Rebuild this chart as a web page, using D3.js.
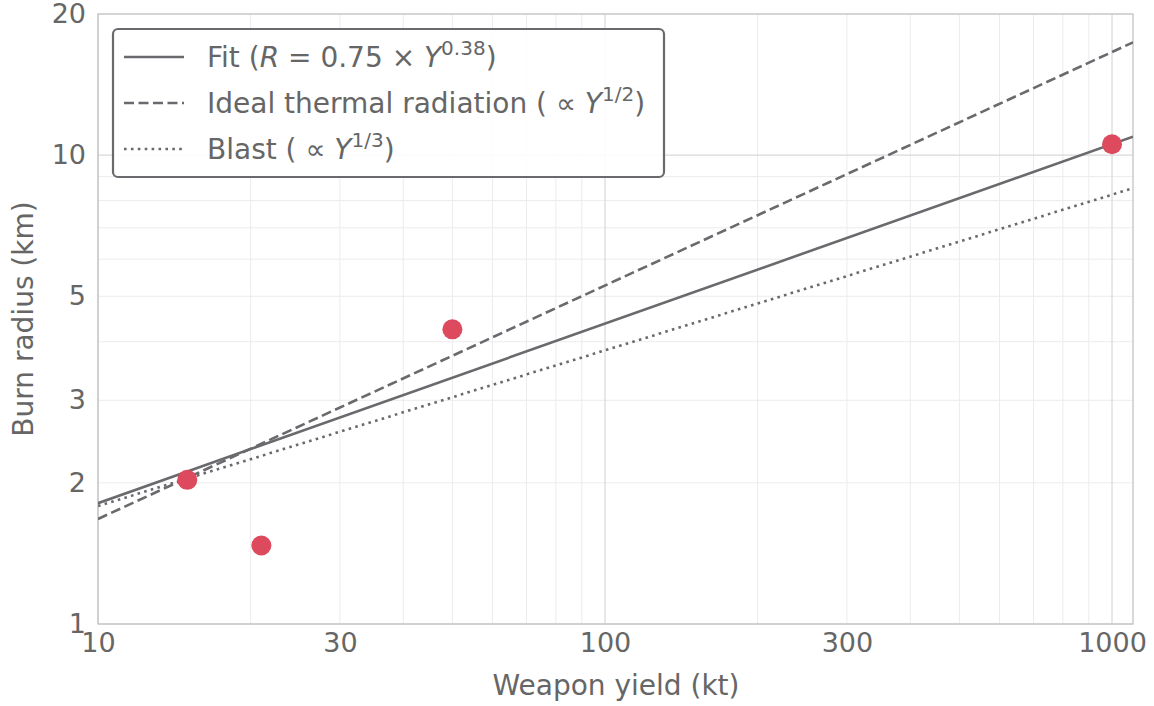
<!DOCTYPE html>
<html><head><meta charset="utf-8">
<script src="https://cdn.jsdelivr.net/npm/d3@7"></script>
<style>body{margin:0;background:#fff}svg{font-family:"DejaVu Sans",sans-serif}</style>
</head><body><svg id="c" width="1154" height="706"></svg>
<script>
// Data (weapon yield kt, burn radius km)
const yields = [15, 21, 50, 1000];
const radii = [2.03, 1.47, 4.25, 10.55];
// Reference lines: endpoints [yield, radius]
const fitLine = [[10, 1.81], [1100, 10.95]];
const thermalLine = [[10, 1.675], [1100, 17.4]];
const blastLine = [[10, 1.785], [1100, 8.5]];
const xTicks = [10, 30, 100, 300, 1000];
const yTicks = [1, 2, 3, 5, 10, 20];
const xMinor = [20,30,40,50,60,70,80,90,200,300,400,500,600,700,800,900];
const xMajor = [10,100,1000];
const yMinor = [2,3,4,5,6,7,8,9,20];
const yMajor = [1,10];

const svg = d3.select("#c");
const L = 98, R = 1133, T = 14, B = 624;
const x = d3.scaleLog().domain([10, 1100]).range([L, R]);
const y = d3.scaleLog().domain([1, 20]).range([B, T]);
const txt = "#666";
const FT = 27, FL = 28;

const g = svg.append("g");
// grid
g.selectAll(".xm").data(xMinor).join("line").attr("x1", d=>x(d)).attr("x2", d=>x(d)).attr("y1", T).attr("y2", B).attr("stroke", "#ececec").attr("stroke-width", 1);
g.selectAll(".ym").data(yMinor).join("line").attr("y1", d=>y(d)).attr("y2", d=>y(d)).attr("x1", L).attr("x2", R).attr("stroke", "#ececec").attr("stroke-width", 1);
g.selectAll(".xM").data(xMajor).join("line").attr("x1", d=>x(d)).attr("x2", d=>x(d)).attr("y1", T).attr("y2", B).attr("stroke", "#d8d8d8").attr("stroke-width", 1.2);
g.selectAll(".yM").data(yMajor).join("line").attr("y1", d=>y(d)).attr("y2", d=>y(d)).attr("x1", L).attr("x2", R).attr("stroke", "#d8d8d8").attr("stroke-width", 1.2);

// frame
svg.append("rect").attr("x", L).attr("y", T).attr("width", R-L).attr("height", B-T).attr("fill", "none").attr("stroke", "#c4c4c4").attr("stroke-width", 1.3);

// axes
const xAxis = d3.axisBottom(x).tickValues(xTicks).tickFormat(d3.format("d")).tickSize(0).tickPadding(9);
const ax = svg.append("g").attr("transform", `translate(0,${B})`).call(xAxis);
ax.select(".domain").remove();
ax.selectAll("text").attr("fill", txt).attr("font-size", FT).attr("font-family", "DejaVu Sans");
const yAxis = d3.axisLeft(y).tickValues(yTicks).tickFormat(d3.format("d")).tickSize(0).tickPadding(12);
const ay = svg.append("g").attr("transform", `translate(${L},0)`).call(yAxis);
ay.select(".domain").remove();
ay.selectAll("text").attr("fill", txt).attr("font-size", FT).attr("font-family", "DejaVu Sans");

svg.append("text").attr("x", 616).attr("y", 695).attr("text-anchor", "middle").attr("fill", txt).attr("font-size", FL).text("Weapon yield (kt)");
svg.append("text").attr("transform", `translate(33,${(T+B)/2}) rotate(-90)`).attr("text-anchor", "middle").attr("fill", txt).attr("font-size", FL).text("Burn radius (km)");

// lines
svg.append("clipPath").attr("id", "pc").append("rect").attr("x", L).attr("y", T).attr("width", R-L).attr("height", B-T);
const line = d3.line().x(d=>x(d[0])).y(d=>y(d[1]));
const lc = "#6a6a6e";
const pl = svg.append("g").attr("clip-path", "url(#pc)");
pl.append("path").attr("d", line(fitLine)).attr("stroke", lc).attr("stroke-width", 2.6).attr("fill", "none");
pl.append("path").attr("d", line(thermalLine)).attr("stroke", lc).attr("stroke-width", 2.6).attr("fill", "none").attr("stroke-dasharray", "10,4.5");
pl.append("path").attr("d", line(blastLine)).attr("stroke", lc).attr("stroke-width", 2.6).attr("fill", "none").attr("stroke-dasharray", "2.6,4.3");

// points
svg.append("g").selectAll("circle").data(yields.map((v,i)=>[v, radii[i]])).join("circle")
  .attr("cx", d=>x(d[0])).attr("cy", d=>y(d[1])).attr("r", 10).attr("fill", "#dd4a5e");

// legend
const lg = svg.append("g");
lg.append("rect").attr("x", 113).attr("y", 29).attr("width", 551).attr("height", 148).attr("rx", 5).attr("fill", "#fff").attr("fill-opacity", 0.9).attr("stroke", "#6a6a6e").attr("stroke-width", 2.2);
const items = [
  {dash: null, parts: [["Fit (",0],["R",1],[" = 0.75 × ",0],["Y",1],["0.38",2],[")",0]]},
  {dash: "10,4.5", parts: [["Ideal thermal radiation ( ∝ ",0],["Y",1],["1/2",2],[")",0]]},
  {dash: "2.6,4.3", parts: [["Blast ( ∝ ",0],["Y",1],["1/3",2],[")",0]]}
];
items.forEach((it, i) => {
  const yy = 57 + i*46;
  lg.append("line").attr("x1", 124).attr("x2", 184).attr("y1", yy).attr("y2", yy).attr("stroke", lc).attr("stroke-width", 2.6).attr("stroke-dasharray", it.dash);
  const t = lg.append("text").attr("x", 207).attr("y", yy + 10).attr("fill", txt).attr("font-size", FL);
  it.parts.forEach(p => {
    const ts = t.append("tspan").text(p[0]);
    if (p[1] === 1) ts.attr("font-style", "italic");
    if (p[1] === 2) ts.attr("font-size", 20).attr("dy", -12);
    if (p[1] === 0 && p[0] === ")") ts.attr("dy", 12);
  });
});
</script></body></html>
